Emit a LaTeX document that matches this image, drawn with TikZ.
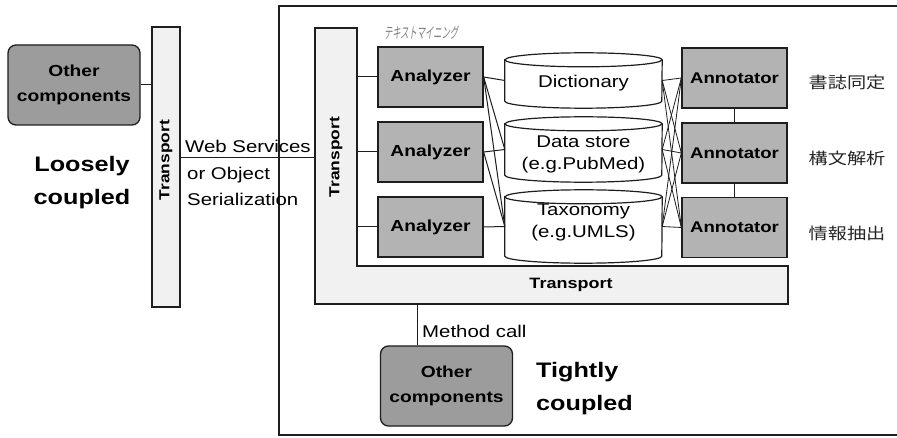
\documentclass[tikz,border=0pt]{standalone}
\usepackage{fontspec}
\setmainfont[FakeStretch=1.2]{Liberation Sans}
\newfontfamily\jpfont[FakeStretch=1.2]{Noto Sans CJK JP}
\newfontfamily\jpthin[FakeStretch=0.55,FakeSlant=0.15]{Noto Sans CJK JP}
\definecolor{boxgray}{HTML}{B3B3B3}
\definecolor{compgray}{HTML}{9C9C9C}
\definecolor{transgray}{HTML}{F1F1F1}
\definecolor{inkc}{HTML}{1E1E1E}
\newcommand{\drawcyl}[1]{%
  \path[draw=inkc, fill=white, line width=1.2pt]
    ([yshift=-7pt]#1.north west) -- ([yshift=7pt]#1.south west)
    arc[start angle=180, end angle=360, x radius=78.5pt, y radius=7pt]
    -- ([yshift=-7pt]#1.north east)
    arc[start angle=0, end angle=180, x radius=78.5pt, y radius=7pt] -- cycle;
  \draw[inkc, line width=1.2pt] ([yshift=-7pt]#1.north west)
    arc[start angle=180, end angle=360, x radius=78.5pt, y radius=7pt];}
\begin{document}
\begin{tikzpicture}[x=1pt, y=-1pt,
  comp/.style={draw=inkc, fill=compgray, line width=1.3pt, rounded corners=8pt,
    minimum width=132pt, minimum height=80pt, inner sep=0pt, align=center,
    font=\bfseries\fontsize{16}{25}\selectfont},
  proc/.style={draw=inkc, fill=boxgray, line width=1.3pt,
    minimum width=105pt, minimum height=60pt, inner sep=0pt,
    font=\bfseries\fontsize{16}{19}\selectfont},
  cylbox/.style={minimum width=157pt, inner sep=0pt, draw=none},
  cyltext/.style={align=center, inner sep=0pt, font=\fontsize{17}{22}\selectfont},
  trans/.style={draw=inkc, fill=transgray, line width=1.3pt},
  link/.style={draw=inkc, line width=1pt},
  plain/.style={inner sep=0pt, font=\fontsize{17}{25}\selectfont},
  big/.style={inner sep=0pt, align=left, font=\bfseries\fontsize{21}{33}\selectfont},
  jp/.style={inner sep=0pt, text=black!85, font=\jpfont\fontsize{16}{18}\selectfont}]
\useasboundingbox[fill=white] (0,0) rectangle (897,438);

% outer frame of the tightly coupled part (runs off the right edge)
\draw[inkc, line width=1.2pt] (897,6) -- (279,6) -- (279,435) -- (897,435);

% left transport bar
\node[trans, minimum width=28pt, minimum height=280pt, inner sep=0pt] (lt) at (166,167) {};
\node[rotate=90, inner sep=0pt, font=\bfseries\fontsize{14.5}{18}\selectfont] (ltlabel) at (166,160) {Transport};

% inner L-shaped transport
\path[trans] (315,28) -- (357,28) -- (357,266) -- (788,266) -- (788,304) -- (315,304) -- cycle;
\node[rotate=90, inner sep=0pt, font=\bfseries\fontsize{14.5}{18}\selectfont] (itlabel) at (336,157) {Transport};
\node[inner sep=0pt, font=\bfseries\fontsize{15}{18}\selectfont] (btlabel) at (571,285) {Transport};
\coordinate (itw) at (315,158);
\coordinate (itv) at (357,0);
\coordinate (mc) at (417,304);

% loosely coupled side
\node[comp] (oc1) at (74,85) {Other\\components};
\node[big, align=center] (loose) at (82,183) {Loosely\\coupled};
\node[plain, anchor=west] (ws) at (185,146) {Web Services};
\node[plain, anchor=west] (ob) at (187,175) {or Object};
\node[plain, anchor=west] (se) at (187,199) {Serialization};

% text mining label
\node[inner sep=0pt, text=black!50, font=\jpthin\fontsize{15}{17}\selectfont] (tm) at (421,33) {テキストマイニング};

% analyzers
\node[proc] (a1) at (430.5,77) {Analyzer};
\node[proc] (a2) at (430.5,152) {Analyzer};
\node[proc] (a3) at (430.5,227) {Analyzer};

% resources
\node[cylbox, minimum height=55pt] (dict) at (583.5,80.5) {};
\node[cylbox, minimum height=65pt] (ds) at (583.5,149.5) {};
\node[cylbox, minimum height=73pt] (tax) at (583.5,226.5) {};
\drawcyl{dict}
\drawcyl{ds}
\drawcyl{tax}
\node[cyltext] (dictt) at (583.5,83) {Dictionary};
\node[cyltext] (dst) at (583.5,154) {Data store\\(e.g.PubMed)};
\node[cyltext] (taxt) at (583.5,222) {Taxonomy\\(e.g.UMLS)};

% annotators
\node[proc, font=\bfseries\fontsize{15.5}{19}\selectfont] (n1) at (734.5,78) {Annotator};
\node[proc, font=\bfseries\fontsize{15.5}{19}\selectfont] (n2) at (734.5,153) {Annotator};
\node[proc, font=\bfseries\fontsize{15.5}{19}\selectfont] (n3) at (734.5,227.5) {Annotator};
\node[jp] (j1) at (847,82) {書誌同定};
\node[jp] (j2) at (847,158) {構文解析};
\node[jp] (j3) at (847,233) {情報抽出};

% tightly coupled side
\node[comp] (oc2) at (446.5,386) {Other\\components};
\node[plain, anchor=west] (mcl) at (422,331) {Method call};
\node[big, anchor=west] (tight) at (536,389) {Tightly\\coupled};

% connectors
\draw[link] (oc1.east) -- (oc1.east -| lt.west);
\draw[link] (lt.east |- itw) -- (itw);
\draw[link] (a1.west -| itv) -- (a1.west);
\draw[link] (a2.west -| itv) -- (a2.west);
\draw[link] (a3.west -| itv) -- (a3.west);
\draw[link] (a1.east) -- (dict.west);
\draw[link] (a1.east) -- (ds.west);
\draw[link] (a1.east) -- (tax.west);
\draw[link] (a2.east) -- (ds.west);
\draw[link] (a2.east) -- (tax.west);
\draw[link] (a3.east) -- (tax.west);
\foreach \c in {dict,ds,tax}{
  \foreach \n in {n1,n2,n3}{
    \draw[link, line width=0.8pt] (\c.east) -- (\n.west);}}
\draw[link] (n1.south) -- (n2.north);
\draw[link] (n2.south) -- (n3.north);
\draw[link] (mc) -- (mc |- oc2.north);
\end{tikzpicture}
\end{document}
